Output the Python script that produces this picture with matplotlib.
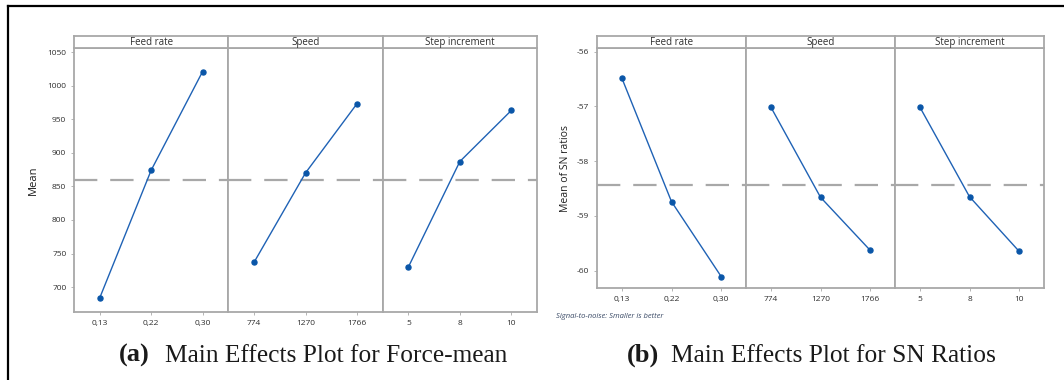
import matplotlib
matplotlib.use("Agg")
import matplotlib.pyplot as plt
from matplotlib.lines import Line2D
import numpy as np

# factor levels and main-effect means
factors = ["Feed rate", "Speed", "Step increment"]
levels_feed = ["0,13", "0,22", "0,30"]
levels_speed = ["774", "1270", "1766"]
levels_step = ["5", "8", "10"]

force_feed = [684, 874, 1021]
force_speed = [737, 870, 973]
force_step = [730, 887, 963]

sn_feed = [-56.48, -58.74, -60.11]
sn_speed = [-57.01, -58.66, -59.63]
sn_step = [-57.01, -58.65, -59.65]

force_ticks = [700, 750, 800, 850, 900, 950, 1000, 1050]
sn_ticks = [-60, -59, -58, -57, -56]

W, H = 1064, 380
GRAY = "#a8a8a8"
LINE = "#1f62b5"
MARK = "#0a56a8"
TXT = "#2e2e2e"
SANS = ["Open Sans", "DejaVu Sans"]


def fx(px):
    return px / W


def fy(py):
    return 1 - py / H


def main_effects(fig, left, right, top, bottom, levels, values, ylim, yticks):
    grand = np.mean(np.concatenate([np.asarray(v, float) for v in values]))
    width = (right - left) / len(values)
    strip_h = 12
    for i, (name, lev, val) in enumerate(zip(factors, levels, values)):
        x0 = left + i * width
        ax = fig.add_axes([fx(x0), fy(bottom), fx(width), (bottom - top) / H])
        ax.plot(range(len(val)), val, color=LINE, lw=1.0, marker="o",
                ms=3.6, mfc=MARK, mec=MARK, zorder=3)
        ax.axhline(grand, color=GRAY, lw=1.6, ls=(0, (10.5, 5.8)), zorder=1)
        ax.set_xlim(-0.5, len(val) - 0.5)
        ax.set_ylim(*ylim)
        ax.set_xticks(range(len(val)))
        ax.set_xticklabels(lev, fontsize=6, color=TXT, family=SANS)
        if i == 0:
            ax.set_yticks(yticks)
            ax.set_yticklabels([str(t) for t in yticks], fontsize=6,
                               color=TXT, family=SANS)
        else:
            ax.set_yticks([])
        ax.tick_params(length=2.5, width=0.6, color=GRAY, pad=3)
        for sp in ax.spines.values():
            sp.set_color(GRAY)
            sp.set_linewidth(1.3)

        sx = fig.add_axes([fx(x0), fy(top), fx(width), strip_h / H])
        sx.set_xticks([])
        sx.set_yticks([])
        for sp in sx.spines.values():
            sp.set_color(GRAY)
            sp.set_linewidth(1.3)
        sx.text(0.5, 0.45, name, ha="center", va="center", fontsize=7,
                color=TXT, family=SANS, transform=sx.transAxes)


fig = plt.figure(figsize=(W / 100, H / 100), dpi=100, facecolor="white")

main_effects(fig, 74, 537, 48, 312,
             [levels_feed, levels_speed, levels_step],
             [force_feed, force_speed, force_step],
             (663, 1056), force_ticks)
main_effects(fig, 597, 1044, 48, 288,
             [levels_feed, levels_speed, levels_step],
             [sn_feed, sn_speed, sn_step],
             (-60.32, -55.93), sn_ticks)

fig.text(fx(33), fy(180), "Mean", rotation=90, ha="center", va="center",
         fontsize=8, color="#202020", family=SANS)
fig.text(fx(565), fy(168), "Mean of SN ratios", rotation=90, ha="center",
         va="center", fontsize=7.5, color="#202020", family=SANS)
fig.text(fx(556), fy(317), "Signal-to-noise: Smaller is better", ha="left",
         va="center", fontsize=5.5, style="italic", color="#3a4a66",
         family=SANS)

serif = ["Liberation Serif", "DejaVu Serif"]
fig.text(fx(119), fy(362), "(a)", ha="left", va="baseline", fontsize=19,
         fontweight="bold", family=serif, color="#1a1a1a")
fig.text(fx(165), fy(362), "Main Effects Plot for Force-mean", ha="left",
         va="baseline", fontsize=18.3, family=serif, color="#1a1a1a")
fig.text(fx(627), fy(362), "(b)", ha="left", va="baseline", fontsize=19,
         fontweight="bold", family=serif, color="#1a1a1a")
fig.text(fx(671), fy(362), "Main Effects Plot for SN Ratios", ha="left",
         va="baseline", fontsize=18.3, family=serif, color="#1a1a1a")

# outer frame (left and top edges)
fig.add_artist(Line2D([fx(8), fx(8)], [0, fy(6)], color="black", lw=1.6,
                      transform=fig.transFigure))
fig.add_artist(Line2D([fx(8), fx(1063)], [fy(6), fy(6)], color="black",
                      lw=1.6, transform=fig.transFigure))

fig.savefig("out.png", dpi=100, facecolor="white")
